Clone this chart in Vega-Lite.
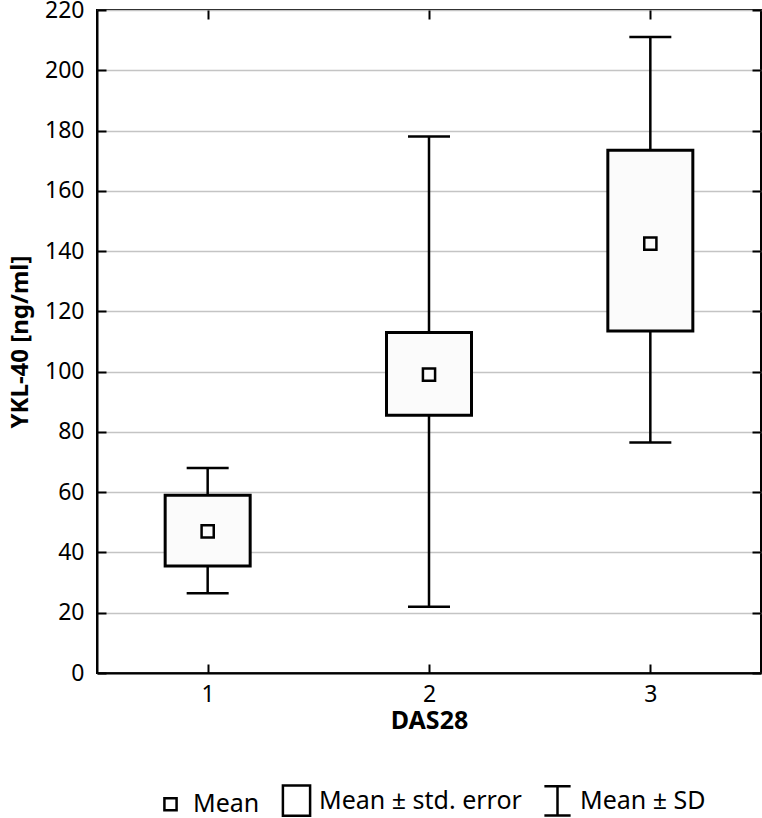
{
  "$schema": "https://vega.github.io/schema/vega-lite/v6.json",
  "width": 664,
  "height": 663,
  "autosize": "none",
  "padding": {"left": 97, "top": 10, "right": 1, "bottom": 145},
  "background": "white",
  "config": {
    "font": "Noto Sans",
    "view": {"stroke": "black", "strokeWidth": 2},
    "axis": {"labelFont": "Noto Sans", "labelFontSize": 23, "labelColor": "black", "titleColor": "black", "domainColor": "black", "domainWidth": 2, "tickColor": "black", "tickWidth": 2},
    "legend": {"layout": {"bottom": {"anchor": "middle"}}}
  },
  "data": {
    "values": [
      {"group": 1, "mean": 47, "seLo": 35.5, "seHi": 59, "sdLo": 26.5, "sdHi": 68},
      {"group": 2, "mean": 99, "seLo": 85.5, "seHi": 113, "sdLo": 22, "sdHi": 178},
      {"group": 3, "mean": 142.5, "seLo": 113.5, "seHi": 173.5, "sdLo": 76.5, "sdHi": 211}
    ]
  },
  "layer": [
    {
      "mark": {"type": "rule", "stroke": "black", "strokeWidth": 2.5},
      "encoding": {
        "x": {"field": "group", "type": "quantitative", "scale": {"domain": [0.5, 3.5], "nice": false, "zero": false, "padding": 0},
              "axis": {"orient": "bottom", "values": [1, 2, 3], "format": "d", "grid": false, "tickSize": -9, "labelPadding": 19, "title": "DAS28", "titleFontSize": 25, "titleFontWeight": "bold", "titlePadding": 2}},
        "y": {"field": "sdLo", "type": "quantitative", "scale": {"domain": [0, 220], "nice": false},
              "axis": {"orient": "left", "values": [0, 20, 40, 60, 80, 100, 120, 140, 160, 180, 200, 220], "grid": true, "gridColor": "#c4c4c4", "gridWidth": 1.5, "tickSize": -9, "labelPadding": 22, "title": "YKL-40 [ng/ml]", "titleFontSize": 24, "titleFontWeight": "bold", "titlePadding": 12}},
        "y2": {"field": "sdHi"}
      }
    },
    {
      "mark": {"type": "tick", "orient": "horizontal", "size": 42, "thickness": 2.5, "color": "black", "opacity": 1},
      "encoding": {
        "x": {"field": "group", "type": "quantitative", "axis": {"orient": "top", "values": [1, 2, 3], "labels": false, "grid": false, "tickSize": -9, "title": null, "domain": false}},
        "y": {"field": "sdLo", "type": "quantitative", "axis": {"orient": "right", "values": [0, 20, 40, 60, 80, 100, 120, 140, 160, 180, 200, 220], "labels": false, "grid": false, "tickSize": -9, "title": null, "domain": false}}
      }
    },
    {
      "mark": {"type": "tick", "orient": "horizontal", "size": 42, "thickness": 2.5, "color": "black", "opacity": 1},
      "encoding": {
        "x": {"field": "group", "type": "quantitative", "axis": null},
        "y": {"field": "sdHi", "type": "quantitative", "axis": null}
      }
    },
    {
      "mark": {"type": "bar", "size": 85, "fill": "#fbfbfb", "stroke": "black", "strokeWidth": 3},
      "encoding": {
        "x": {"field": "group", "type": "quantitative", "axis": null},
        "y": {"field": "seLo", "type": "quantitative", "axis": null},
        "y2": {"field": "seHi"}
      }
    },
    {
      "mark": {"type": "point", "size": 1024, "filled": false, "color": "black", "strokeWidth": 2.5, "opacity": 1},
      "encoding": {
        "x": {"field": "group", "type": "quantitative", "axis": null},
        "y": {"field": "mean", "type": "quantitative", "axis": null},
        "shape": {
          "datum": "Mean",
          "scale": {
            "domain": ["Mean", "Mean ± std. error", "Mean ± SD"],
            "range": ["M-0.38,-0.38H0.38V0.38H-0.38Z", "M-0.85,-0.95H0.85V0.95H-0.85Z", "M-0.82,-0.92H0.82M0,-0.92V0.92M-0.82,0.92H0.82"]
          },
          "legend": {"orient": "bottom", "direction": "horizontal", "title": null, "labelFontSize": 25, "labelColor": "black", "labelLimit": 400, "symbolSize": 1024, "symbolStrokeColor": "black", "symbolStrokeWidth": 2.5, "symbolOpacity": 1, "labelOffset": 5, "columnPadding": 17, "offset": 50}
        }
      }
    }
  ],
  "resolve": {"axis": {"x": "independent", "y": "independent"}}
}
